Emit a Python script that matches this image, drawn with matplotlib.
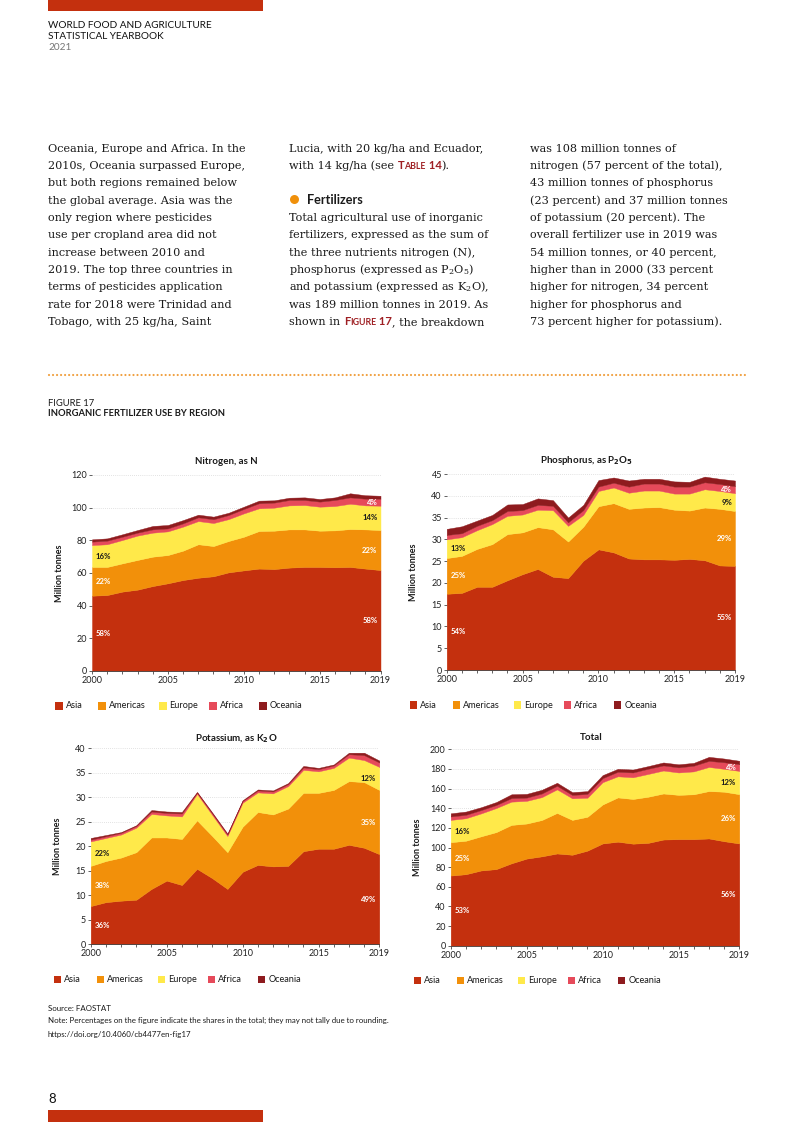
import matplotlib
matplotlib.use('Agg')
import matplotlib.pyplot as plt
from matplotlib.patches import Rectangle, Ellipse
from matplotlib.lines import Line2D
import numpy as np

W, H = 793, 1122
years = list(range(2000, 2020))
regions = ['Asia', 'Americas', 'Europe', 'Africa', 'Oceania']
colors = ['#C4300E', '#F2900A', '#FFE94A', '#E64A5A', '#8E1B1E']

# ---- Nitrogen, as N (million tonnes) ----
n_asia = [46.1, 46.5, 48.6, 49.8, 52.0, 53.7, 55.7, 57.1, 58.0, 60.4, 61.6, 62.7, 62.4, 63.3, 63.7, 63.7, 63.5, 63.7, 62.7, 61.8]
n_americas = [17.6, 17.2, 17.3, 18.2, 18.0, 17.3, 18.0, 20.5, 18.5, 19.2, 20.6, 23.0, 23.5, 23.4, 23.0, 22.2, 22.6, 23.2, 24.0, 24.5]
n_europe = [13.4, 13.9, 14.3, 14.9, 14.7, 14.5, 14.7, 14.2, 14.1, 13.4, 14.3, 13.9, 14.1, 14.7, 14.9, 14.7, 14.9, 15.5, 14.7, 14.9]
n_africa = [2.1, 2.2, 2.0, 1.8, 2.0, 1.8, 2.0, 2.3, 2.3, 2.5, 2.7, 3.1, 3.1, 3.3, 3.1, 3.1, 3.7, 3.9, 4.1, 4.3]
n_oceania = [1.4, 1.4, 1.5, 1.6, 2.1, 2.1, 2.0, 1.6, 1.6, 1.4, 1.4, 1.6, 1.4, 1.4, 1.6, 1.6, 1.6, 2.5, 2.1, 1.8]
n_pct_start = ['58%', '22%', '16%']
n_pct_end = ['58%', '22%', '14%', '4%']

# ---- Phosphorus, as P2O5 ----
p_asia = [17.5, 17.7, 19.1, 19.1, 20.6, 22.0, 23.2, 21.4, 21.1, 25.1, 27.7, 27.0, 25.6, 25.4, 25.4, 25.3, 25.5, 25.2, 24.0, 23.9]
p_americas = [8.2, 8.5, 8.7, 9.8, 10.6, 9.6, 9.6, 10.9, 8.4, 7.8, 9.9, 11.3, 11.4, 11.9, 12.0, 11.5, 11.1, 12.1, 13.0, 12.6]
p_europe = [4.3, 4.3, 4.3, 4.6, 4.2, 4.1, 4.0, 4.4, 3.6, 2.7, 3.5, 3.6, 3.7, 3.9, 3.8, 3.7, 3.9, 4.2, 4.1, 4.1]
p_africa = [1.0, 0.9, 1.0, 0.9, 1.1, 1.0, 1.1, 1.0, 0.8, 1.1, 1.0, 1.1, 1.4, 1.6, 1.6, 1.6, 1.6, 1.6, 1.6, 1.6]
p_oceania = [1.4, 1.6, 1.2, 1.2, 1.5, 1.4, 1.5, 1.3, 1.1, 1.2, 1.5, 1.2, 1.4, 1.1, 1.1, 1.2, 1.1, 1.3, 1.2, 1.3]
p_pct_start = ['54%', '25%', '13%']
p_pct_end = ['55%', '29%', '9%', '4%']

# ---- Potassium, as K2O ----
k_asia = [7.8, 8.6, 8.9, 9.1, 11.3, 13.0, 12.1, 15.4, 13.5, 11.3, 14.8, 16.2, 15.9, 16.0, 19.0, 19.5, 19.5, 20.3, 19.7, 18.4]
k_americas = [8.2, 8.4, 8.8, 9.7, 10.5, 8.8, 9.4, 9.9, 8.6, 7.5, 9.2, 10.8, 10.6, 11.7, 11.9, 11.4, 12.0, 13.0, 13.4, 13.1]
k_europe = [5.0, 4.7, 4.7, 5.0, 4.8, 4.5, 4.6, 5.4, 4.3, 3.3, 4.9, 4.0, 4.3, 4.6, 4.7, 4.4, 4.5, 4.8, 4.5, 4.7]
k_africa = [0.35, 0.35, 0.35, 0.35, 0.5, 0.5, 0.6, 0.25, 0.3, 0.3, 0.35, 0.4, 0.4, 0.4, 0.5, 0.45, 0.5, 0.7, 1.0, 0.9]
k_oceania = [0.35, 0.25, 0.15, 0.15, 0.3, 0.3, 0.3, 0.15, 0.2, 0.2, 0.15, 0.2, 0.2, 0.2, 0.3, 0.25, 0.2, 0.3, 0.5, 0.4]
k_pct_start = ['36%', '38%', '22%']
k_pct_end = ['49%', '35%', '12%']

# ---- Total ----
t_asia = [71.4, 72.8, 76.6, 78.0, 83.9, 88.7, 91.0, 93.9, 92.6, 96.8, 104.1, 105.9, 103.9, 104.7, 108.1, 108.5, 108.5, 109.2, 106.4, 104.1]
t_americas = [34.0, 34.1, 34.8, 37.7, 39.1, 35.7, 37.0, 41.3, 35.5, 34.5, 39.7, 45.1, 45.5, 47.0, 46.9, 45.1, 45.7, 48.3, 50.4, 50.2]
t_europe = [22.7, 22.9, 23.3, 24.5, 23.7, 23.1, 23.3, 24.0, 22.0, 19.4, 22.7, 21.5, 22.1, 23.2, 23.4, 22.8, 23.3, 24.5, 23.3, 23.7]
t_africa = [3.5, 3.5, 3.4, 3.1, 3.6, 3.3, 3.7, 3.6, 3.4, 3.9, 4.1, 4.6, 4.9, 5.3, 5.2, 5.2, 5.8, 6.2, 6.7, 6.8]
t_oceania = [3.2, 3.3, 2.9, 3.0, 3.9, 3.8, 3.8, 3.1, 2.9, 2.8, 3.1, 3.0, 3.0, 2.7, 3.0, 3.1, 2.9, 4.1, 3.8, 3.5]
t_pct_start = ['53%', '25%', '16%']
t_pct_end = ['56%', '26%', '12%', '4%']

SANS = 'Lato'
SERIF = 'DejaVu Serif'
DARK = '#1a1a1a'
LINKRED = '#9E1F23'

fig = plt.figure(figsize=(W / 100, H / 100), dpi=100)
renderer = fig.canvas.get_renderer()


def fx(px):
    return px / W


def fy(py):
    return 1 - py / H


def text_width(s, **kw):
    t = fig.text(0, 0, '|' + s + '|', **kw)
    w1 = t.get_window_extent(renderer).width
    t.set_text('||')
    w2 = t.get_window_extent(renderer).width
    t.remove()
    return w1 - w2


def fit(s, target, **kw):
    t = fig.text(0, 0, s, fontsize=10, **kw)
    w = t.get_window_extent(renderer).width
    t.remove()
    return 10 * target / w


def draw_runs(x, y, runs):
    for s, kw in runs:
        fig.text(fx(x), fy(y), s, va='baseline', ha='left', **kw)
        x += text_width(s, **kw)


# ---- page decorations ----
fig.patches.append(Rectangle((fx(48), fy(11)), (263 - 48) / W, 11 / H,
                             transform=fig.transFigure, color='#C4300E', lw=0))
fig.patches.append(Rectangle((fx(48), fy(1122)), (263 - 48) / W, 12 / H,
                             transform=fig.transFigure, color='#C4300E', lw=0))

hs = fit('WORLD FOOD AND AGRICULTURE', 163, family=SANS)
fig.text(fx(48), fy(25), 'WORLD FOOD AND AGRICULTURE', family=SANS, fontsize=hs,
         color='#111111', va='center')
fig.text(fx(48), fy(36.5), 'STATISTICAL YEARBOOK', family=SANS, fontsize=hs,
         color='#111111', va='center')
fig.text(fx(48), fy(48), '2021', family=SANS, fontsize=hs, color='#777777', va='center')

# ---- body text ----
bs = fit('Oceania, Europe and Africa. In the', 200, family=SERIF)
body = dict(family=SERIF, fontsize=bs, color=DARK)
base0 = 151.7
lh = 17.33

col1 = ['Oceania, Europe and Africa. In the',
        '2010s, Oceania surpassed Europe,',
        'but both regions remained below',
        'the global average. Asia was the',
        'only region where pesticides',
        'use per cropland area did not',
        'increase between 2010 and',
        '2019. The top three countries in',
        'terms of pesticides application',
        'rate for 2018 were Trinidad and',
        'Tobago, with 25 kg/ha, Saint']
for i, s in enumerate(col1):
    fig.text(fx(48), fy(base0 + i * lh), s, va='baseline', **body)

x2 = 289
sc_big = dict(family=SANS, fontsize=bs * 1.0, color=LINKRED, weight='bold')
sc_small = dict(family=SANS, fontsize=bs * 0.78, color=LINKRED, weight='bold')
fig.text(fx(x2), fy(base0), 'Lucia, with 20 kg/ha and Ecuador,', va='baseline', **body)
draw_runs(x2, base0 + lh, [('with 14 kg/ha (see ', body), ('T', sc_big), ('ABLE', sc_small),
                           (' 14', sc_big), (').', body)])
fig.patches.append(Ellipse((fx(294.5), fy(199.5)), 9 / W, 9 / H, transform=fig.transFigure,
                           color='#F0900A', lw=0))
fs_head = fit('Fertilizers', 56, family=SANS, weight='bold')
fig.text(fx(306.5), fy(base0 + 3 * lh), 'Fertilizers', va='baseline', family=SANS,
         fontsize=fs_head, weight='bold', color=DARK)
col2 = ['Total agricultural use of inorganic',
        'fertilizers, expressed as the sum of',
        'the three nutrients nitrogen (N),',
        r'phosphorus (expressed as P$_2$O$_5$)',
        r'and potassium (expressed as K$_2$O),',
        'was 189 million tonnes in 2019. As']
for i, s in enumerate(col2):
    fig.text(fx(x2), fy(base0 + (4 + i) * lh), s, va='baseline', math_fontfamily='dejavuserif', **body)
draw_runs(x2, base0 + 10 * lh, [('shown in ', body), ('F', sc_big), ('IGURE', sc_small),
                                (' 17', sc_big), (', the breakdown', body)])

col3 = ['was 108 million tonnes of',
        'nitrogen (57 percent of the total),',
        '43 million tonnes of phosphorus',
        '(23 percent) and 37 million tonnes',
        'of potassium (20 percent). The',
        'overall fertilizer use in 2019 was',
        '54 million tonnes, or 40 percent,',
        'higher than in 2000 (33 percent',
        'higher for nitrogen, 34 percent',
        'higher for phosphorus and',
        '73 percent higher for potassium).']
for i, s in enumerate(col3):
    fig.text(fx(529.5), fy(base0 + i * lh), s, va='baseline', **body)

# dotted separator
fig.add_artist(Line2D([fx(49), fx(745)], [fy(375), fy(375)], transform=fig.transFigure,
                      color='#F0A040', lw=1.6, ls=(0, (0.01, 1.8)), dash_capstyle='round'))

fs_f = fit('INORGANIC FERTILIZER USE BY REGION', 177, family=SANS, weight='bold')
fig.text(fx(48), fy(403), 'FIGURE 17', family=SANS, fontsize=fs_f, color=DARK, va='center')
fig.text(fx(48), fy(414), 'INORGANIC FERTILIZER USE BY REGION', family=SANS, fontsize=fs_f,
         weight='bold', color=DARK, va='center')

# ---- charts ----
charts = [
    dict(title='Nitrogen, as N', data=[n_asia, n_americas, n_europe, n_africa, n_oceania],
         ymax=120, step=20, box=(92, 380.5, 475, 671), tpos=(226.7, 461.5), ylx=59,
         ps=n_pct_start, pe=n_pct_end),
    dict(title=r'Phosphorus, as P$_\mathbf{2}$O$_\mathbf{5}$',
         data=[p_asia, p_americas, p_europe, p_africa, p_oceania],
         ymax=45, step=5, box=(446.7, 735, 474, 670), tpos=(586.7, 460.5), ylx=414,
         ps=p_pct_start, pe=p_pct_end),
    dict(title=r'Potassium, as K$_\mathbf{2}$O', data=[k_asia, k_americas, k_europe, k_africa, k_oceania],
         ymax=40, step=5, box=(90.7, 379.3, 748.3, 944.3), tpos=(235.8, 738.3), ylx=57.5,
         ps=k_pct_start, pe=k_pct_end),
    dict(title='Total', data=[t_asia, t_americas, t_europe, t_africa, t_oceania],
         ymax=200, step=20, box=(450.7, 739.3, 749.3, 945.7), tpos=(591.7, 737.7), ylx=417.5,
         ps=t_pct_start, pe=t_pct_end),
]

leg_offsets = [-37, 6, 67, 117, 167]

for c in charts:
    L, R, T, B = c['box']
    ax = fig.add_axes([fx(L), fy(B), (R - L) / W, (B - T) / H])
    ax.stackplot(years, *c['data'], colors=colors, edgecolor='face', linewidth=0.3)
    ax.set_xlim(2000, 2019)
    ax.set_ylim(0, c['ymax'])
    ax.set_yticks(np.arange(0, c['ymax'] + 0.1, c['step']))
    ax.set_xticks([2000, 2005, 2010, 2015, 2019])
    ax.set_xticks(years, minor=True)
    ax.set_axisbelow(True)
    ax.yaxis.grid(True, linestyle=(0, (1, 2)), color='#c8c8c8', lw=0.5)
    for sp in ['top', 'right', 'left']:
        ax.spines[sp].set_visible(False)
    ax.spines['bottom'].set_color('#444444')
    ax.spines['bottom'].set_linewidth(0.6)
    ax.spines['bottom'].set_zorder(5)
    ax.tick_params(axis='both', which='both', labelsize=6.5, colors='#222222',
                   length=2, width=0.5, pad=1.5)
    ax.tick_params(axis='x', which='minor', length=2, width=0.5)
    for lab in ax.get_xticklabels() + ax.get_yticklabels():
        lab.set_family(SANS)
    # title and y-label
    fig.text(fx(c['tpos'][0]), fy(c['tpos'][1]), c['title'], family=SANS, weight='bold',
             fontsize=7, ha='center', va='center', color=DARK)
    fig.text(fx(c['ylx']), fy((T + B) / 2), 'Million tonnes', family=SANS, weight='bold',
             fontsize=6.5, rotation=90, ha='center', va='center', color=DARK)
    # percentage labels at band midpoints
    cum = np.cumsum(np.array(c['data']), axis=0)
    for i, s in enumerate(c['ps']):
        lo = cum[i - 1][0] if i > 0 else 0
        mid = (lo + cum[i][0]) / 2
        ax.text(2000.25, mid, s, ha='left', va='center', fontsize=5.6, weight='bold',
                family=SANS, color=DARK if i == 2 else 'white')
    for i, s in enumerate(c['pe']):
        lo = cum[i - 1][-1] if i > 0 else 0
        mid = (lo + cum[i][-1]) / 2
        ax.text(2018.8, mid, s, ha='right', va='center', fontsize=5.6, weight='bold',
                family=SANS, color=DARK if i == 2 else 'white')
    # legend
    ly = B + 35
    for off, name, col in zip(leg_offsets, regions, colors):
        x0 = L + off
        fig.patches.append(Rectangle((fx(x0), fy(ly + 3.7)), 7.5 / W, 7.5 / H,
                                     transform=fig.transFigure, color=col, lw=0))
        fig.text(fx(x0 + 10.5), fy(ly), name, family=SANS, fontsize=6.6, va='center',
                 ha='left', color=DARK)

# ---- source notes ----
ns = fit('Note: Percentages on the figure indicate the shares in the total; they may not tally due to rounding.',
         342, family=SANS)
fig.text(fx(48), fy(1008.3), 'Source: FAOSTAT', family=SANS, fontsize=ns, color=DARK, va='center')
fig.text(fx(48), fy(1020.7),
         'Note: Percentages on the figure indicate the shares in the total; they may not tally due to rounding.',
         family=SANS, fontsize=ns, color=DARK, va='center')
fig.text(fx(48), fy(1034), 'https://doi.org/10.4060/cb4477en-fig17', family=SANS, fontsize=ns,
         color=DARK, va='center')
fig.text(fx(48), fy(1099), '8', family=SANS, fontsize=9.5, color='#111111', va='center')

fig.savefig('out.png', dpi=100)
